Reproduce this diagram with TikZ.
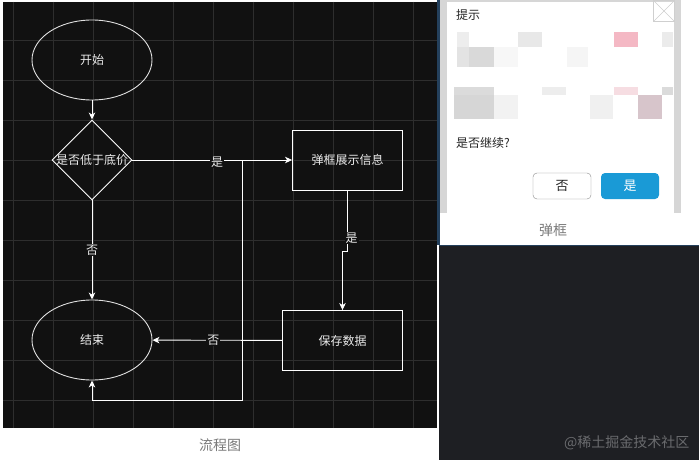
\documentclass[tikz,border=0pt]{standalone}
\usepackage{fontspec}
\setmainfont{Noto Sans CJK SC}
\usetikzlibrary{arrows.meta, positioning, shapes.geometric}
\definecolor{canvasBg}{HTML}{111111}
\definecolor{gridLine}{HTML}{2E2E2E}
\definecolor{panelBg}{HTML}{1E1F23}
\definecolor{panelEdge}{HTML}{24405C}
\definecolor{frameGray}{HTML}{D6D6D6}
\definecolor{closeGray}{HTML}{CFCFCF}
\definecolor{btnBlue}{HTML}{1A9AD6}
\definecolor{btnEdge}{HTML}{8A8A8A}
\definecolor{capGray}{HTML}{7A7A7A}
\definecolor{markGray}{HTML}{6A6B6E}
\definecolor{mPink}{HTML}{F4B8C4}
\definecolor{mRose}{HTML}{F6DDE2}
\definecolor{mMauve}{HTML}{D7C5CB}
\tikzset{
  flowtext/.style={text=white!92!black, font=\fontsize{12}{14}\selectfont},
  terminal/.style={ellipse, draw=white!88!black, line width=0.9pt, flowtext, minimum width=120pt, minimum height=80pt, inner sep=0pt},
  decision/.style={diamond, draw=white, line width=0.9pt, minimum width=80pt, minimum height=80pt, inner sep=0pt},
  process/.style={rectangle, draw=white, line width=0.9pt, flowtext, minimum height=60pt, inner sep=0pt},
  flowedge/.style={draw=white, line width=0.9pt, -{Stealth[length=7pt, width=6.5pt, inset=2pt]}},
  edgelabel/.style={flowtext, fill=canvasBg, inner sep=1pt},
  dlgtext/.style={text=black!85, font=\fontsize{12}{14}\selectfont, inner sep=0pt},
  btnbox/.style={rounded corners=4pt, minimum width=58pt, minimum height=26pt, inner sep=0pt, font=\fontsize{13}{15}\selectfont},
  caption/.style={text=capGray, font=\fontsize{14}{16}\selectfont}
}
\begin{document}
\begin{tikzpicture}[x=1pt, y=-1pt]
    \useasboundingbox (0,0) rectangle (699,460);
    \fill[white] (0,0) rectangle (699,460);
    % canvas
    \fill[canvasBg] (3,2) rectangle (437,428);
    \fill[panelEdge] (437,0) rectangle (440,245);
    \foreach \gx in {13,53,...,413} {
      \draw[gridLine, line width=0.6pt] (\gx,2) -- (\gx,428);
    }
    \foreach \gy in {40,80,...,400} {
      \draw[gridLine, line width=0.6pt] (3,\gy) -- (437,\gy);
    }
    % flow
    \node[terminal] (start) at (92,60) {开始};
    \node[decision, label={[flowtext]center:是否低于底价}] (check) at (92,160) {};
    \node[process, minimum width=110pt] (popup) at (347.5,160) {弹框展示信息};
    \node[process, minimum width=120pt] (save) at (342.5,340.5) {保存数据};
    \node[terminal] (finish) at (92,340) {结束};
    \coordinate (branch) at (242,160);
    \draw[flowedge] (start) -- (check);
    \draw[flowedge] (check) -- node[edgelabel, pos=0.53, yshift=-2pt] (yesA) {是} (popup);
    \draw[flowedge] (check) -- node[edgelabel] (noA) {否} (finish);
    \draw[flowedge] (popup.south) -- node[edgelabel, pos=0.78, xshift=4pt] (yesB) {是} ++(0,61) -| (save.north);
    \draw[flowedge] (save) -- node[edgelabel, pos=0.53] (noB) {否} (finish);
    \draw[flowedge] (branch) -- ++(0,240) -| (finish.south);
    \node[caption] (flowCap) at (220,445) {流程图};
    % dialog
    \fill[frameGray] (440,0) rectangle (681,213);
    \fill[white] (447,2) rectangle (674,213);
    \node[draw=closeGray, minimum size=21pt, inner sep=0pt] (closeBox) at (664,11) {};
    \draw[closeGray] (closeBox.north west) -- (closeBox.south east);
    \draw[closeGray] (closeBox.south west) -- (closeBox.north east);
    \node[dlgtext, anchor=west] (dlgTitle) at (456,15) {提示};
    \foreach \xa/\ya/\xb/\yb/\fc in {457/32/469/47/black!7, 518/32/542/47/black!9, 614/32/638/47/mPink, 662/32/673/47/black!8,
      457/47/469/67/black!11, 469/47/494/67/black!15, 494/47/518/67/black!3, 567/47/588/67/black!4,
      454/87/494/95/black!14, 542/87/566/95/black!7, 614/87/638/95/mRose, 662/87/673/95/black!14,
      454/95/494/119/black!16, 494/95/518/119/black!5, 590/95/613/119/black!6, 638/95/662/119/mMauve} {
      \fill[\fc] (\xa,\ya) rectangle (\xb,\yb);
    }
    \node[dlgtext, anchor=west] (dlgAsk) at (456,143) {是否继续?};
    \node[btnbox, draw=btnEdge, fill=white, text=black!85] (noBtn) at (562,186) {否};
    \node[btnbox, fill=btnBlue, text=white] (yesBtn) at (630,186) {是};
    \node[caption] (dlgCap) at (553,230) {弹框};
    % lower panel
    \fill[panelBg] (439,245) rectangle (699,460);
    \draw[panelEdge, line width=1.2pt] (439,245.6) -- (699,245.6);
    \node[text=markGray, font=\fontsize{14}{16}\selectfont, anchor=east] (mark) at (693,443) {@稀土掘金技术社区};
\end{tikzpicture}
\end{document}
